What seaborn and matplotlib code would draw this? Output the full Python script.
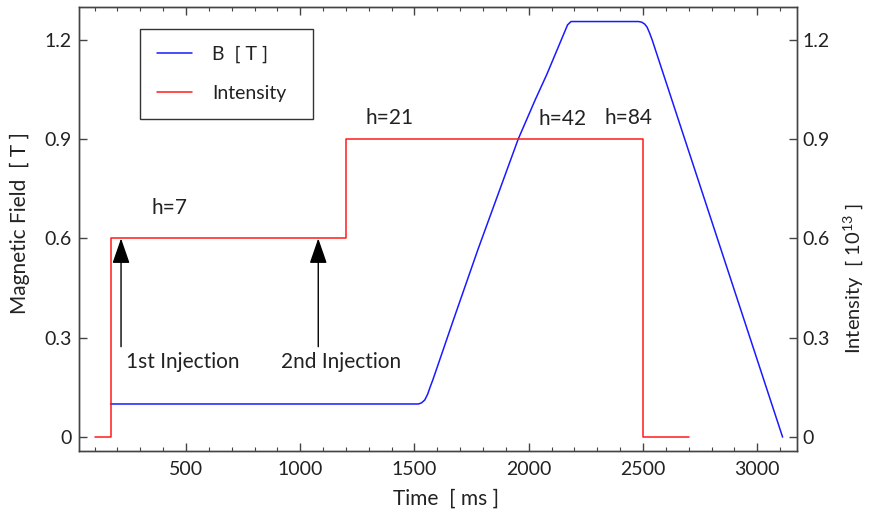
import matplotlib
matplotlib.use("Agg")
import matplotlib.pyplot as plt
from matplotlib.ticker import MultipleLocator, FixedLocator
import seaborn as sns
import pandas as pd

# ---- data ----
b_time = [170, 1517, 1530, 1545, 1558, 1568, 1580, 1590, 1670, 1777, 1806, 1954,
          1976, 2028, 2079, 2170, 2185, 2480, 2495, 2508, 2518, 2528, 2540, 3111]
b_field = [0.100, 0.100, 0.103, 0.112, 0.130, 0.150, 0.172, 0.192, 0.353, 0.565,
           0.620, 0.900, 0.935, 1.018, 1.095, 1.245, 1.255, 1.255, 1.253, 1.247,
           1.238, 1.222, 1.200, 0.000]

i_time = [100, 170, 1200, 2500, 2700]
i_level = [0.0, 0.6, 0.9, 0.0, 0.0]

harmonic_labels = ["h=7", "h=21", "h=42", "h=84"]
harmonic_t = [430, 1393, 2146, 2435]
harmonic_y = [0.692, 0.964, 0.961, 0.963]

inj_labels = ["1st Injection", "2nd Injection"]
inj_t = [216, 1079]
inj_text_t = [486, 1179]

x_ticks = [500, 1000, 1500, 2000, 2500, 3000]
y_ticks = [0, 0.3, 0.6, 0.9, 1.2]
y_ticklabels = ["0", "0.3", "0.6", "0.9", "1.2"]

# ---- style ----
sns.set_theme(style="ticks")
plt.rcParams["font.family"] = ["Lato", "DejaVu Sans"]
plt.rcParams["mathtext.fontset"] = "custom"
plt.rcParams["mathtext.rm"] = "Lato"
plt.rcParams["mathtext.it"] = "Lato"
plt.rcParams["mathtext.default"] = "regular"

FS = 14
TXT = "#222222"
SPINE = "#444444"

fig = plt.figure(figsize=(8.69, 5.12), dpi=100)
AX_L, AX_R, AX_T, AX_B = 79, 797, 7.3, 451
AW, AH = AX_R - AX_L, AX_B - AX_T
ax = fig.add_axes([AX_L / 869, 1 - AX_B / 512, AW / 869, AH / 512])
ax2 = ax.twinx()

df_b = pd.DataFrame({"t": b_time, "B": b_field})
df_i = pd.DataFrame({"t": i_time, "I": i_level})

sns.lineplot(data=df_b, x="t", y="B", ax=ax, color="#1a1aff", lw=1.1,
             estimator=None, sort=False, label="B  [ T ]", legend=False)
sns.lineplot(data=df_i, x="t", y="I", ax=ax2, color="#ff1a1a", lw=1.1,
             estimator=None, sort=False, drawstyle="steps-post",
             label="Intensity", legend=False)

xlim = (32, 3174)
ylim = (-0.042, 1.298)
for a in (ax, ax2):
    a.set_xlim(*xlim)
    a.set_ylim(*ylim)
    a.yaxis.set_major_locator(FixedLocator(y_ticks))
    for s in a.spines.values():
        s.set_color(SPINE)
        s.set_linewidth(1.0)

ax.set_xticks(x_ticks)
ax.set_xticklabels([str(v) for v in x_ticks])
ax.xaxis.set_minor_locator(MultipleLocator(100))
ax.set_yticklabels(y_ticklabels)
ax2.set_yticklabels(y_ticklabels)

ax.tick_params(axis="x", which="both", direction="in", top=True, bottom=True,
               labelsize=FS, labelcolor=TXT, color=SPINE, pad=7)
ax.tick_params(axis="x", which="major", length=6, width=1.0)
ax.tick_params(axis="x", which="minor", length=3, width=0.8)
ax.tick_params(axis="y", which="major", direction="in", left=True, right=False,
               length=6, width=1.0, labelsize=FS, labelcolor=TXT, color=SPINE, pad=5)
ax2.tick_params(axis="y", which="major", direction="in", right=True, left=False,
                length=6, width=1.0, labelsize=FS, labelcolor=TXT, color=SPINE, pad=4)

ax.set_xlabel("Time  [ ms ]", fontsize=FS + 1, color=TXT)
ax.xaxis.set_label_coords((446 - AX_L) / AW, -(489 - AX_B) / AH)
ax.set_ylabel("Magnetic Field  [ T ]", fontsize=FS + 1, color=TXT)
ax.yaxis.set_label_coords(-(AX_L - 30) / AW, (AX_B - 223) / AH)
ax2.set_ylabel(r"Intensity  [ 10$^{13}$ ]", fontsize=FS + 0.5, color=TXT)
ax2.yaxis.set_label_coords(1 + (841 - AX_R) / AW, (AX_B - 279) / AH)

for lab, t, y in zip(harmonic_labels, harmonic_t, harmonic_y):
    ax.text(t, y, lab, fontsize=FS + 1, color=TXT, ha="center", va="center")

for lab, t, tt in zip(inj_labels, inj_t, inj_text_t):
    ax.annotate("", xy=(t, 0.600), xytext=(t, 0.273),
                arrowprops=dict(arrowstyle="-|>,head_length=1.3,head_width=0.45",
                                color="black", lw=1.0, shrinkA=0, shrinkB=0))
    ax.text(tt, 0.227, lab, fontsize=FS + 1, color=TXT, ha="center", va="center")

h1, l1 = ax.get_legend_handles_labels()
h2, l2 = ax2.get_legend_handles_labels()
leg_x0 = (140 - AX_L) / AW
leg_top = (AX_B - 29) / AH
leg_w = (313 - 140) / AW
leg = ax2.legend(h1 + h2, l1 + l2, loc="upper left", mode="expand",
                 bbox_to_anchor=(leg_x0, leg_top - 0.2, leg_w, 0.2),
                 borderaxespad=0, fontsize=FS, frameon=True, fancybox=False,
                 handlelength=1.8, handletextpad=1.05, labelspacing=1.15,
                 borderpad=0.85)
leg.get_frame().set_edgecolor("black")
leg.get_frame().set_linewidth(1.0)
for t in leg.get_texts():
    t.set_color(TXT)

fig.savefig("out.png", dpi=100)
